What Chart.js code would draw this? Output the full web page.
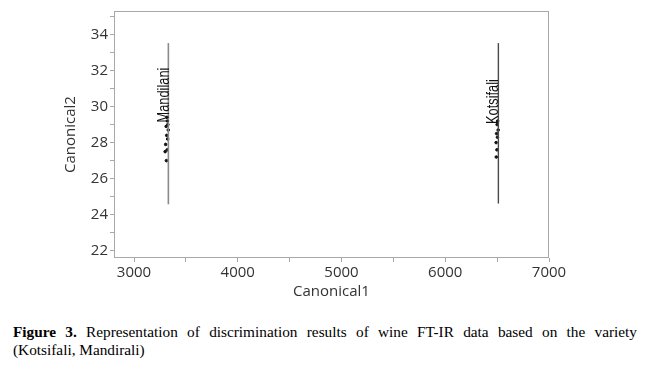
<!DOCTYPE html>
<html>
<head>
<meta charset="utf-8">
<script src="https://cdn.jsdelivr.net/npm/chart.js@4/dist/chart.umd.min.js"></script>
<style>
  body { margin: 0; background: #fff; width: 647px; height: 365px; overflow: hidden; position: relative; }
  #wrap { position: absolute; left: 0; top: 0; width: 647px; height: 305px; }
  #caption { position: absolute; left: 13px; top: 323px; width: 624px; font-family: "Liberation Serif", "Times New Roman", serif; font-size: 15.3px; line-height: 18px; color: #000; }
  #caption .l1 { text-align: justify; text-align-last: justify; white-space: nowrap; }
</style>
</head>
<body>
<div id="wrap"><canvas id="chart"></canvas></div>
<div id="caption">
  <div class="l1"><b>Figure 3.</b> Representation of discrimination results of wine FT-IR data based on the variety</div>
  <div>(Kotsifali, Mandirali)</div>
</div>
<script>
const groups = ['Mandilani', 'Kotsifali'];

// individual samples (Canonical1, Canonical2)
const mandilaniX = [3318, 3322, 3326, 3310, 3330, 3315, 3324, 3305, 3320, 3300, 3312];
const mandilaniY = [29.4, 29.2, 29.0, 28.9, 28.7, 28.4, 28.2, 27.9, 27.6, 27.5, 27.0];
const kotsifaliX = [6505, 6500, 6510, 6495, 6503, 6490, 6498, 6492];
const kotsifaliY = [29.2, 29.0, 28.7, 28.5, 28.3, 28.0, 27.6, 27.2];

// group ellipses (collapse to vertical lines at this x scale)
const ellipseX = [3331, 6512];
const ellipseTop = [33.52, 33.52];
const ellipseBottom = [24.58, 24.62];

// group label anchor (Canonical1, Canonical2), text baseline
const labelX = [3338, 6513];
const labelY = [30.64, 30.28];

const xTickValues = [3000, 3500, 4000, 4500, 5000, 5500, 6000, 6500, 7000];
const xTickLabels = [3000, 4000, 5000, 6000, 7000];
const yTickValues = [22, 23, 24, 25, 26, 27, 28, 29, 30, 31, 32, 33, 34, 35];
const yTickLabels = [22, 24, 26, 28, 30, 32, 34];

function toPoints(xs, ys) {
    return xs.map((x, i) => ({ x: x, y: ys[i] }));
}

const framePlugin = {
    id: 'frame',
    beforeDatasetsDraw(chart) {
        const { ctx, chartArea } = chart;
        ctx.save();
        ctx.strokeStyle = '#a8a8a8';
        ctx.lineWidth = 1;
        ctx.strokeRect(chartArea.left + 0.5, chartArea.top + 0.5, chartArea.width - 1, chartArea.height - 1);
        ctx.restore();
    }
};

const groupLabelPlugin = {
    id: 'groupLabels',
    afterDatasetsDraw(chart) {
        const { ctx, scales } = chart;
        ctx.save();
        ctx.fillStyle = '#111';
        ctx.font = '16px "Liberation Sans", Arial, sans-serif';
        ctx.textAlign = 'center';
        ctx.textBaseline = 'alphabetic';
        for (let i = 0; i < groups.length; i++) {
            const px = scales.x.getPixelForValue(labelX[i]);
            const py = scales.y.getPixelForValue(labelY[i]);
            ctx.save();
            ctx.translate(px, py);
            ctx.rotate(-Math.PI / 2);
            ctx.scale(0.8, 1);
            ctx.fillText(groups[i], 0, 0);
            ctx.restore();
        }
        ctx.restore();
    }
};

const tickFont = { family: '"Open Sans", "Noto Sans", sans-serif', size: 15 };

const config = {
    type: 'scatter',
    data: {
        datasets: [
            {
                type: 'line',
                data: [{ x: ellipseX[0], y: ellipseBottom[0] }, { x: ellipseX[0], y: ellipseTop[0] }],
                borderColor: '#8a8a8a',
                borderWidth: 1.6,
                pointRadius: 0,
                showLine: true
            },
            {
                type: 'line',
                data: [{ x: ellipseX[1], y: ellipseBottom[1] }, { x: ellipseX[1], y: ellipseTop[1] }],
                borderColor: '#4a4a4a',
                borderWidth: 1.4,
                pointRadius: 0,
                showLine: true
            },
            {
                data: toPoints(mandilaniX, mandilaniY),
                backgroundColor: '#111',
                borderColor: '#111',
                pointRadius: 1.3
            },
            {
                data: toPoints(kotsifaliX, kotsifaliY),
                backgroundColor: '#111',
                borderColor: '#111',
                pointRadius: 1.3
            }
        ]
    },
    options: {
        responsive: false,
        animation: false,
        layout: { padding: { left: 62, right: 98, top: 11, bottom: 0 } },
        plugins: { legend: { display: false }, tooltip: { enabled: false } },
        scales: {
            x: {
                type: 'linear',
                min: 2807,
                max: 7000,
                afterFit(scale) { scale.height = 47; },
                afterBuildTicks(scale) { scale.ticks = xTickValues.map(v => ({ value: v })); },
                border: { display: false },
                grid: { drawOnChartArea: false, drawTicks: true, tickLength: 4, color: '#a8a8a8' },
                ticks: {
                    autoSkip: false,
                    maxRotation: 0,
                    padding: 2,
                    color: '#333',
                    font: tickFont,
                    callback: (v) => xTickLabels.includes(v) ? String(v) : ''
                },
                title: { display: true, text: 'Canonical1', color: '#333', font: tickFont, padding: { top: 0 } }
            },
            y: {
                type: 'linear',
                min: 21.6,
                max: 35.3,
                afterFit(scale) { scale.width = 52; },
                afterBuildTicks(scale) { scale.ticks = yTickValues.map(v => ({ value: v })); },
                border: { display: false },
                grid: { drawOnChartArea: false, drawTicks: true, tickLength: 4, color: '#a8a8a8' },
                ticks: {
                    autoSkip: false,
                    padding: 2,
                    color: '#333',
                    font: tickFont,
                    callback: (v) => yTickLabels.includes(v) ? String(v) : ''
                },
                title: { display: true, text: 'Canonical2', color: '#333', font: tickFont, padding: { top: 0, bottom: 0 } }
            }
        }
    },
    plugins: [framePlugin, groupLabelPlugin]
};

const canvas = document.getElementById('chart');
canvas.width = 647;
canvas.height = 305;
new Chart(canvas.getContext('2d'), config);
</script>
</body>
</html>
